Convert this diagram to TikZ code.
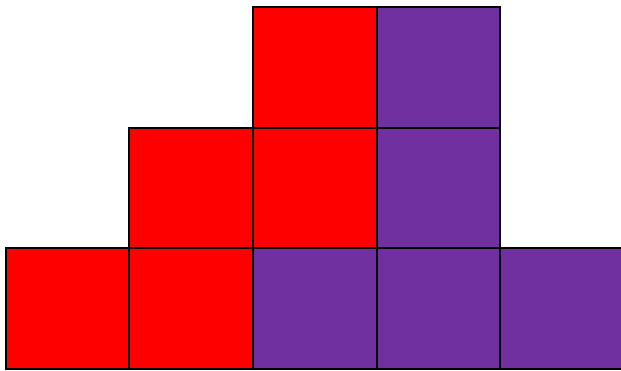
\documentclass[tikz,border=0pt]{standalone}
\definecolor{pur}{HTML}{7030A0}
\definecolor{rd}{HTML}{FF0000}
\begin{document}
\begin{tikzpicture}[x=1pt,y=-1pt,
  cell/.style={draw=black,line width=2pt}]
\useasboundingbox (0,0) rectangle (621,370);
\clip (0,0) rectangle (621,370);
\foreach \a/\b/\c/\d/\col in {6/248/129/369/rd, 129/248/253/369/rd, 253/248/377/369/pur, 377/248/500/369/pur, 500/248/624/369/pur, 129/128/253/248/rd, 253/128/377/248/rd, 377/128/500/248/pur, 253/7/377/128/rd, 377/7/500/128/pur}
  \fill[\col] (\a,\b) rectangle (\c,\d);
\foreach \a/\b/\c/\d in {6/248/129/369, 129/248/253/369, 253/248/377/369, 377/248/500/369, 500/248/624/369, 129/128/253/248, 253/128/377/248, 377/128/500/248, 253/7/377/128, 377/7/500/128}
  \draw[cell] (\a,\b) rectangle (\c,\d);
\end{tikzpicture}
\end{document}
